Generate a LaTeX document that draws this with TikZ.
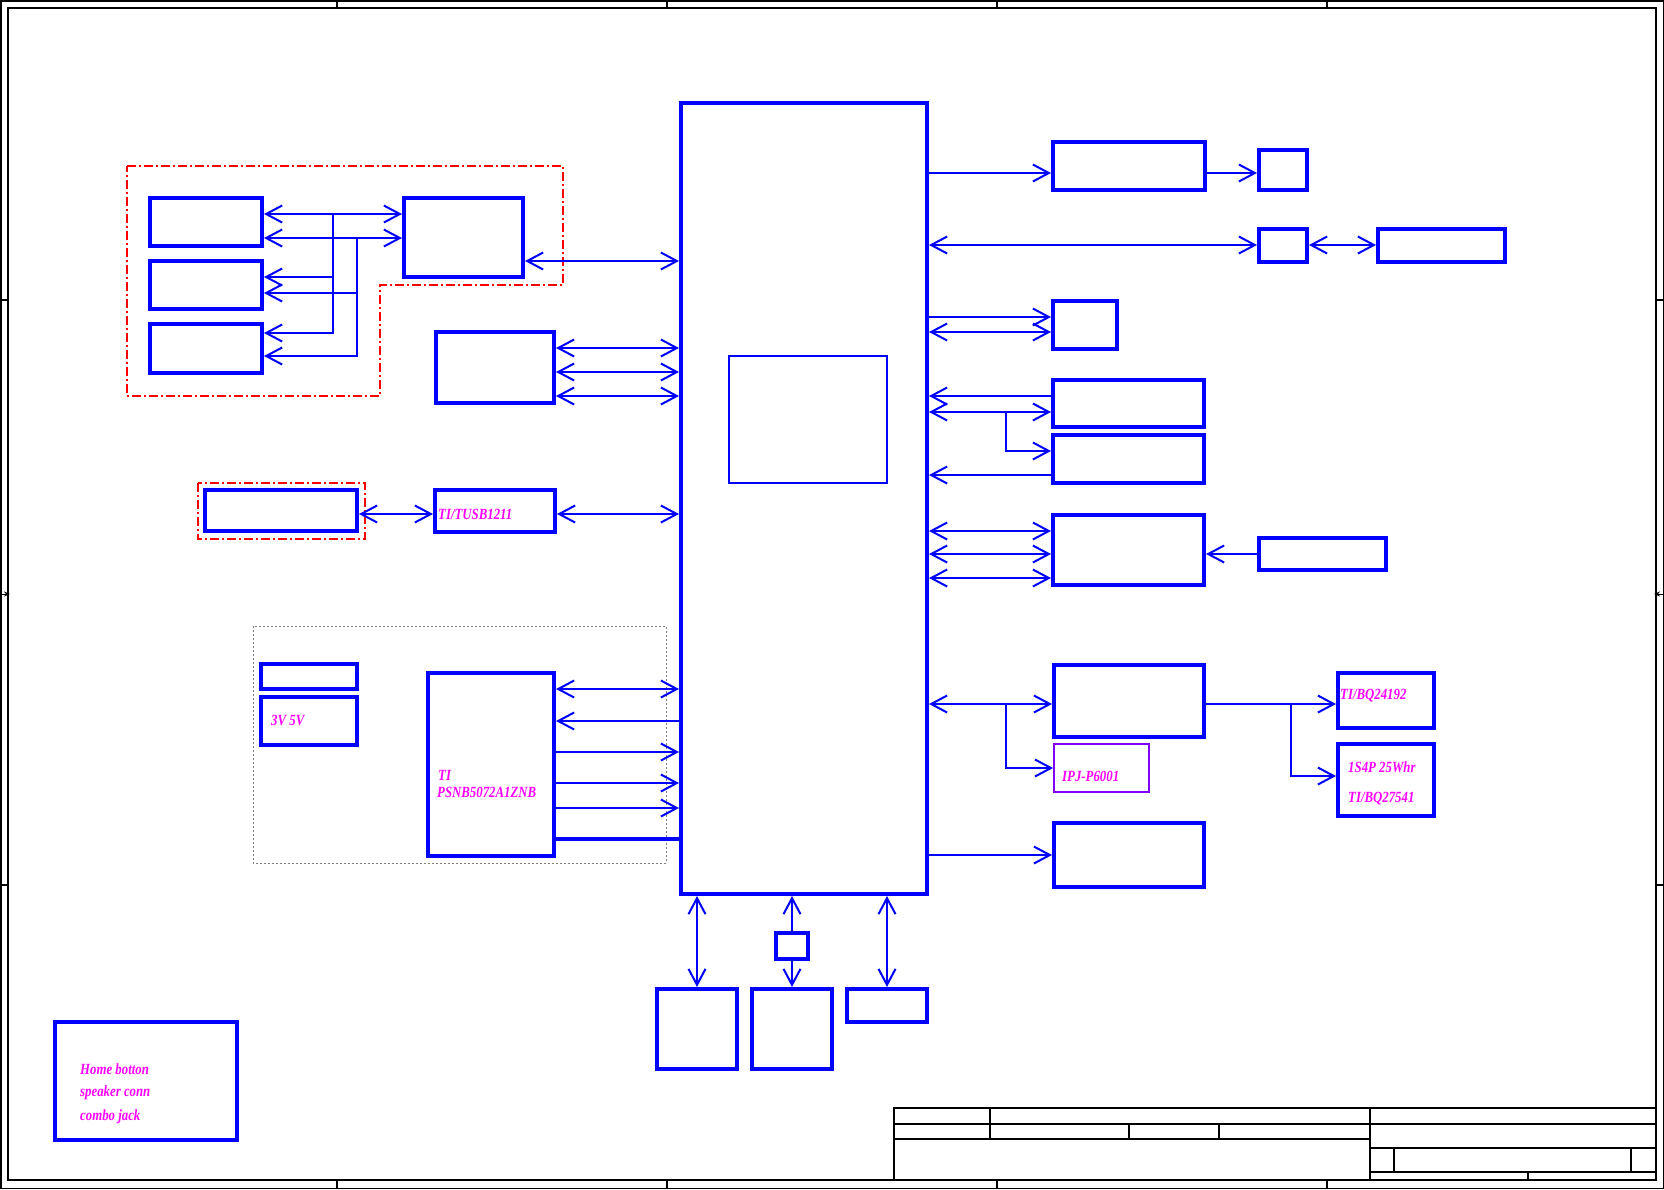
\documentclass[tikz,border=0pt]{standalone}
\usepackage{fontspec}
\setmainfont{Liberation Serif}
\usetikzlibrary{arrows.meta}
\definecolor{pviolet}{RGB}{128,0,255}
\definecolor{mag}{RGB}{255,0,255}
\definecolor{bl}{RGB}{0,0,255}
\definecolor{rd}{RGB}{255,0,0}
\newcommand{\bx}[6]{\node[#6, minimum width={(#4)-(#2)}, minimum height={(#5)-(#3)}] (#1) at ({((#2)+(#4))/2},{((#3)+(#5))/2}) {};}
\newcommand{\lt}[1]{\scalebox{0.95}[1.15]{#1}}
\begin{document}
\begin{tikzpicture}[x=1pt,y=-1pt,
  blk/.style={draw=bl,line width=4pt,inner sep=0pt},
  tbx/.style={draw=bl,line width=1.6pt,inner sep=0pt},
  pbox/.style={draw=pviolet,line width=1.8pt,inner sep=0pt},
  con/.style={draw=bl,line width=2pt},
  arr/.style={con,-{Straight Barb[length=16pt,width=17pt]}},
  rarr/.style={con,{Straight Barb[length=16pt,width=17pt]}-},
  dbl/.style={con,{Straight Barb[length=16pt,width=17pt]}-{Straight Barb[length=16pt,width=17pt]}},
  lbl/.style={text=mag,font=\fontsize{13.5}{16}\selectfont\bfseries\itshape,anchor=west,inner sep=0pt},
  frm/.style={draw=black,line width=1.5pt},
  tbl/.style={draw=black,line width=1.2pt},
  reddash/.style={draw=rd,line width=2pt,dash pattern=on 9pt off 3pt on 2pt off 3pt},
  graydot/.style={draw=gray,line width=1pt,dash pattern=on 2pt off 2pt}]
\useasboundingbox (0,0) rectangle (1664,1189);
% frame
\draw[frm] (0.75,0.75) rectangle (1663.25,1188.25);
\draw[frm] (8,8) rectangle (1656,1180);
\foreach \x in {337,667,997,1327} {\draw[frm] (\x,0) -- (\x,8); \draw[frm] (\x,1180) -- (\x,1189);}
\foreach \y in {300,885} {\draw[frm] (0,\y) -- (8,\y); \draw[frm] (1656,\y) -- (1664,\y);}
\draw[black,line width=1pt,-{Stealth[length=6pt,width=5pt]}] (0,594) -- (10,594);
\draw[black,line width=1pt,-{Stealth[length=6pt,width=5pt]}] (1664,594) -- (1654,594);
% title block
\draw[tbl] (894,1108) rectangle (1656,1180);
\draw[tbl] (894,1124) -- (1656,1124);
\draw[tbl] (894,1139) -- (1370,1139);
\draw[tbl] (990,1108) -- (990,1139);
\draw[tbl] (1370,1108) -- (1370,1180);
\draw[tbl] (1129,1124) -- (1129,1139);
\draw[tbl] (1219,1124) -- (1219,1139);
\draw[tbl] (1370,1148) -- (1656,1148);
\draw[tbl] (1370,1172) -- (1656,1172);
\draw[tbl] (1394,1148) -- (1394,1172);
\draw[tbl] (1631,1148) -- (1631,1172);
\draw[tbl] (1528,1172) -- (1528,1180);
% group outlines
\draw[reddash] (127,166) -- (563,166) -- (563,285) -- (380,285) -- (380,396) -- (127,396) -- cycle;
\draw[reddash] (198,483) rectangle (365,539);
\draw[graydot] (253,626) rectangle (666,863);
% boxes
\bx{main}{681}{103}{927}{894}{blk}
\bx{soc}{729}{356}{887}{483}{tbx}
\bx{A1}{150}{198}{262}{246}{blk}
\bx{A2}{150}{261}{262}{309}{blk}
\bx{A3}{150}{324}{262}{373}{blk}
\bx{B}{404}{198}{523}{277}{blk}
\bx{C}{436}{332}{554}{403}{blk}
\bx{D}{205}{490}{357}{531}{blk}
\bx{E}{435}{490}{555}{532}{blk}
\bx{F1}{261}{664}{357}{689}{blk}
\bx{F2}{261}{697}{357}{745}{blk}
\bx{G}{428}{673}{554}{856}{blk}
\bx{H1}{1053}{142}{1205}{190}{blk}
\bx{H2}{1259}{150}{1307}{190}{blk}
\bx{I1}{1259}{229}{1307}{262}{blk}
\bx{I2}{1378}{229}{1505}{262}{blk}
\bx{J}{1053}{301}{1117}{349}{blk}
\bx{K1}{1053}{380}{1204}{427}{blk}
\bx{K2}{1053}{435}{1204}{483}{blk}
\bx{L}{1053}{515}{1204}{585}{blk}
\bx{M}{1259}{538}{1386}{570}{blk}
\bx{N}{1054}{665}{1204}{737}{blk}
\bx{O}{1054}{744}{1149}{792}{pbox}
\bx{P1}{1338}{673}{1434}{728}{blk}
\bx{P2}{1338}{744}{1434}{816}{blk}
\bx{Q}{1054}{823}{1204}{887}{blk}
\bx{R1}{657}{989}{737}{1069}{blk}
\bx{R2}{752}{989}{832}{1069}{blk}
\bx{R3}{847}{989}{927}{1022}{blk}
\bx{S}{776}{933}{808}{959}{blk}
\bx{T}{55}{1022}{237}{1140}{blk}
% left group connectors
\draw[dbl] (A1.east |- 0,214) -- (B.west |- 0,214);
\draw[dbl] (A1.east |- 0,238) -- (B.west |- 0,238);
\coordinate (ja) at (333,214);
\coordinate (jb) at (357,238);
\draw[arr] (ja) |- (A3.east |- 0,333);
\draw[arr] (ja |- 0,277) -- (A2.east |- 0,277);
\draw[arr] (jb) |- (A3.east |- 0,356);
\draw[arr] (jb |- 0,293) -- (A2.east |- 0,293);
\draw[dbl] (B.east |- 0,261) -- (main.west |- 0,261);
\foreach \y in {348,372,396} {\draw[dbl] (C.east |- 0,\y) -- (main.west |- 0,\y);}
\draw[dbl] (D.east |- 0,514) -- (E.west |- 0,514);
\draw[dbl] (E.east |- 0,514) -- (main.west |- 0,514);
\draw[dbl] (G.east |- 0,689) -- (main.west |- 0,689);
\draw[rarr] (G.east |- 0,721) -- (main.west |- 0,721);
\foreach \y in {752,783,808} {\draw[arr] (G.east |- 0,\y) -- (main.west |- 0,\y);}
\draw[con,line width=4pt] (G.east |- 0,839) -- (main.west |- 0,839);
% right connectors
\draw[arr] (main.east |- 0,173) -- (H1.west |- 0,173);
\draw[arr] (H1.east |- 0,173) -- (H2.west |- 0,173);
\draw[dbl] (main.east |- 0,245) -- (I1.west |- 0,245);
\draw[dbl] (I1.east |- 0,245) -- (I2.west |- 0,245);
\draw[arr] (main.east |- 0,317) -- (J.west |- 0,317);
\draw[dbl] (main.east |- 0,332) -- (J.west |- 0,332);
\draw[arr] (K1.west |- 0,396) -- (main.east |- 0,396);
\draw[dbl] (main.east |- 0,412) -- (K1.west |- 0,412);
\coordinate (jk) at (1006,412);
\draw[arr] (jk) |- (K2.west |- 0,451);
\draw[arr] (K2.west |- 0,475) -- (main.east |- 0,475);
\foreach \y in {531,554,578} {\draw[dbl] (main.east |- 0,\y) -- (L.west |- 0,\y);}
\draw[arr] (M.west |- 0,554) -- (L.east |- 0,554);
\draw[dbl] (main.east |- 0,704) -- (N.west |- 0,704);
\coordinate (jn) at (1006,704);
\draw[arr] (jn) |- (O.west |- 0,768);
\draw[arr] (N.east |- 0,704) -- (P1.west |- 0,704);
\coordinate (jp) at (1291,704);
\draw[arr] (jp) |- (P2.west |- 0,776);
\draw[arr] (main.east |- 0,855) -- (Q.west |- 0,855);
% bottom connectors
\draw[dbl] (main.south -| 697,0) -- (R1.north -| 697,0);
\draw[arr] (S.north) -- (main.south -| S.north);
\draw[arr] (S.south) -- (R2.north -| S.south);
\draw[dbl] (main.south -| 887,0) -- (R3.north -| 887,0);
% labels
\node[lbl] (tE) at (438,514) {\lt{TI/TUSB1211}};
\node[lbl] (tF) at (271,720) {\lt{3V 5V}};
\node[lbl] (tG1) at (438,775) {\lt{TI}};
\node[lbl] (tG2) at (437,792) {\lt{PSNB5072A1ZNB}};
\node[lbl] (tO) at (1062,776) {\lt{IPJ-P6001}};
\node[lbl] (tP1) at (1340,696) {\lt{TI/BQ24192}};
\node[lbl] (tP2) at (1348,767) {\lt{1S4P 25Whr}};
\node[lbl] (tP3) at (1348,799) {\lt{TI/BQ27541}};
\node[lbl] (tT1) at (80,1069) {\lt{Home botton}};
\node[lbl] (tT2) at (80,1093) {\lt{speaker conn}};
\node[lbl] (tT3) at (80,1117) {\lt{combo jack}};
\end{tikzpicture}
\end{document}
